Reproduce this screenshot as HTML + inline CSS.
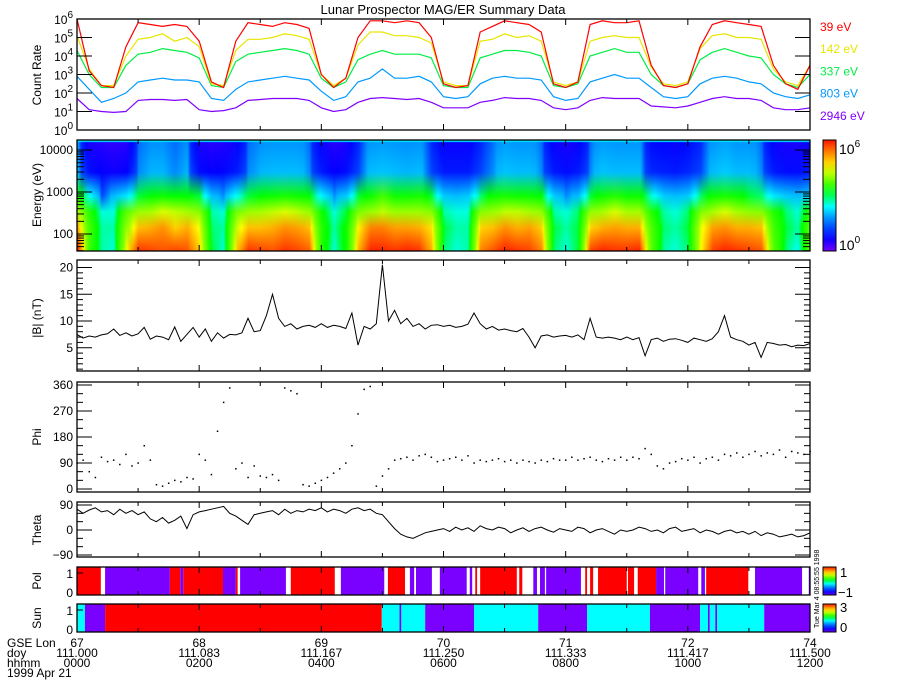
<!DOCTYPE html>
<html><head><meta charset="utf-8">
<style>
html,body{margin:0;padding:0;background:#fff;}
#root{position:relative;width:900px;height:700px;overflow:hidden;font-family:"Liberation Sans",sans-serif;}
canvas{position:absolute;left:0;top:0;}
svg{position:absolute;left:0;top:0;}
</style></head>
<body>
<div id="root">
<canvas id="spec" width="900" height="700"></canvas>
<svg id="svg" width="900" height="700" xmlns="http://www.w3.org/2000/svg" font-family="Liberation Sans, sans-serif"></svg>
</div>
<script>
// ---- data (time step 0.2 h for count rates, 0.1 h for field) ----
const countStep = 0.2;
const logRate39 = [6.0,3.2,2.4,2.3,4.5,5.8,5.7,5.6,5.7,5.6,4.8,2.6,2.3,4.8,5.8,5.7,5.6,5.8,5.7,5.5,3.0,2.3,2.8,5.0,5.9,5.9,5.8,5.9,5.8,5.0,2.5,2.3,2.4,5.3,5.6,5.9,5.8,5.7,5.3,2.5,2.3,2.6,5.7,5.9,5.8,5.8,5.9,3.5,2.4,2.3,2.5,4.5,5.7,5.9,5.8,5.7,5.6,3.5,2.5,2.2,3.5];
const logRate142 = [5.1,3.3,2.4,2.4,4.0,4.9,5.0,5.2,4.8,5.0,4.5,2.5,2.4,4.3,4.9,4.9,5.0,5.2,5.1,4.9,3.0,2.4,2.8,4.6,5.3,5.3,5.1,5.1,5.0,4.7,2.6,2.4,2.4,4.8,4.9,5.2,5.0,5.1,4.8,2.6,2.4,2.6,4.8,5.0,5.1,5.0,5.0,3.4,2.5,2.4,2.6,4.4,5.1,5.2,5.0,5.0,4.9,3.3,2.6,2.4,3.5];
const logRate337 = [4.3,3.0,2.3,2.3,3.5,4.1,4.2,4.4,4.3,4.2,3.9,2.4,2.3,3.7,4.1,4.2,4.3,4.4,4.3,4.1,2.8,2.3,2.6,3.8,4.1,4.3,4.1,4.1,4.1,3.9,2.4,2.3,2.3,3.9,4.1,4.3,4.3,4.2,4.0,2.4,2.3,2.5,4.0,4.2,4.4,4.2,4.2,3.0,2.4,2.3,2.5,3.8,4.2,4.4,4.2,4.0,3.9,3.0,2.5,2.3,3.0];
const logRate803 = [2.9,2.2,1.5,1.7,2.0,2.6,2.7,2.8,2.7,2.7,2.6,1.7,1.6,2.2,2.6,2.7,2.8,2.9,2.8,2.7,2.1,1.6,1.8,2.6,2.8,3.3,2.8,2.8,2.9,2.6,1.8,1.7,1.8,2.5,2.8,2.9,2.8,2.8,2.7,1.8,1.6,1.7,2.6,2.8,3.0,2.8,2.8,2.3,1.8,1.7,1.8,2.5,2.8,2.9,2.8,2.6,2.5,2.0,1.8,1.7,1.9];
const logRate2946 = [1.7,1.1,1.0,0.95,1.0,1.6,1.65,1.65,1.6,1.65,1.1,1.0,1.05,1.2,1.6,1.65,1.7,1.7,1.7,1.6,1.2,1.0,1.1,1.5,1.7,1.75,1.7,1.65,1.7,1.5,1.2,1.2,1.2,1.5,1.6,1.75,1.7,1.7,1.6,1.2,1.1,1.2,1.6,1.75,1.7,1.7,1.7,1.3,1.25,1.2,1.3,1.5,1.7,1.8,1.7,1.7,1.6,1.2,1.1,1.1,1.2];
const channelLabels = ["39 eV","142 eV","337 eV","803 eV","2946 eV"];
const channelEnergies = [39,142,337,803,2946];
const fieldStep = 0.1;
const bMag = [7.5,6.8,7.2,7.0,7.4,7.6,8.5,7.3,7.8,7.2, 7.6,8.8,6.6,7.2,7.0,6.5,8.9,6.2,7.5,8.8, 7.0,8.5,6.2,7.8,6.8,7.5,7.4,7.8,10.5,8.0, 8.2,11.0,15.0,10.5,9.0,9.5,8.5,9.0,9.2,8.8, 9.5,8.8,9.2,9.0,8.6,11.5,5.5,9.0,8.5,9.5, 20.5,10.0,12.0,9.5,10.5,9.0,9.5,8.5,9.2,9.3, 9.0,9.2,8.8,9.0,9.4,11.5,9.5,8.5,9.0,8.3, 8.5,8.2,8.0,8.6,7.0,5.0,7.2,7.4,7.0,7.2, 7.3,7.0,7.4,6.5,10.5,7.0,6.8,7.0,6.8,6.5, 7.0,6.5,6.9,3.5,6.5,6.8,6.2,6.6,6.7,6.4, 6.0,6.8,6.5,6.2,6.7,8.0,11.0,7.0,6.5,6.2, 5.5,6.0,3.2,6.0,5.8,5.5,5.6,5.2,5.5,5.4, 5.8];
const phi = [90,100,60,40,110,95,100,85,120,80, 90,150,100,15,10,20,30,25,40,35, 120,100,50,200,300,350,70,90,40,80, 45,40,50,30,350,340,330,15,10,20, 30,40,55,70,90,150,260,345,355,10, 45,70,100,105,110,100,115,120,110,95, 100,105,110,100,115,90,100,95,100,105, 95,100,90,100,95,90,100,95,105,100, 100,110,100,105,110,100,95,105,100,110, 100,110,105,140,120,80,70,90,95,105, 100,110,90,105,110,100,120,115,125,110, 120,130,115,125,120,135,110,130,125,120, 130];
const theta = [75,60,72,80,65,70,55,75,60,70, 55,65,40,30,45,25,35,50,5,55, 65,70,75,80,85,60,50,35,20,55, 60,65,70,55,75,60,70,65,75,70, 80,65,75,70,60,75,80,70,75,60, 55,30,5,-15,-25,-30,-20,-10,-5,0, 5,-5,10,0,8,-5,15,5,0,10, 5,-10,0,8,-5,5,10,0,-8,5, 0,-5,10,5,-10,0,5,-5,-15,0, -5,0,10,5,-5,0,-10,5,10,-5, 0,5,-10,0,-5,-15,-5,0,-10,-5, -15,-5,-20,-10,-15,-25,-20,-15,-25,-20, -10];
const polStart = [0.00,0.46,1.52,1.69,1.74,2.39,2.60,2.67,3.50,4.32,5.09,5.45,5.55,5.94,6.43,6.52,6.60,7.24,7.47,7.58,7.68,8.32,8.40,8.53,9.02,9.18,9.48,9.63,10.22,10.30,11.10,11.98];
const polEnd   = [0.39,1.52,1.69,1.74,2.39,2.60,2.63,3.42,4.22,5.03,5.37,5.52,5.81,6.38,6.47,6.55,7.20,7.29,7.53,7.66,8.25,8.35,8.45,9.00,9.12,9.48,9.61,10.17,10.28,10.99,11.87,12.00];
const polValue = [1,-1,1,-1,1,-1,1,-1,1,-1,1,-1,-1,-1,-1,1,1,1,-1,-1,-1,1,1,1,1,1,-1,-1,-1,1,-1,-1];
const sunStart = [0,0.13,0.46,4.99,5.28,5.31,5.70,6.50,7.55,8.35,9.38,10.20,10.33,10.36,10.45,10.48,11.25];
const sunEnd   = [0.13,0.46,4.99,5.28,5.31,5.70,6.50,7.55,8.35,9.38,10.20,10.33,10.36,10.45,10.48,11.25,12];
const sunValue = [2,0,3,2,0,2,0,2,0,2,0,2,0,2,0,2,0];
const lonLabels = ["67","68","69","70","71","72","74"];
const doyLabels = ["111.000","111.083","111.167","111.250","111.333","111.417","111.500"];
const hhmmLabels = ["0000","0200","0400","0600","0800","1000","1200"];

// ---- layout ----
const X0=77, X1=810;
const X = t => X0 + t*(X1-X0)/12;
const P = {
 rate:[19,130], spec:[140,251], b:[260,371], phi:[382,492], theta:[502,557], pol:[567,595], sun:[604,632]
};
const Yrate = v => 130 - v*111/6;
const Yspec = e => 192 - (Math.log10(e)-3)*42;
const Yb = v => 374.5 - v*5.35;
const Yphi = v => 489 - v*104/360;
const Ytheta = v => 530 - v*25/90;

const svg = document.getElementById('svg');
const NS='http://www.w3.org/2000/svg';
function el(tag, attrs, parent){const e=document.createElementNS(NS,tag);for(const k in attrs)e.setAttribute(k,attrs[k]);(parent||svg).appendChild(e);return e;}
function txt(s,x,y,opts,parent){const e=el('text',Object.assign({x:x,y:y,'font-size':12,fill:'#000'},opts||{}),parent);e.textContent=s;return e;}
function interp(arr, step, t){const i=t/step;const a=Math.floor(i);const b=Math.min(a+1,arr.length-1);const f=i-a;return arr[Math.min(a,arr.length-1)]*(1-f)+arr[b]*f;}

// colormap
const cmStops=[[0,[120,0,255]],[0.12,[0,0,255]],[0.3,[0,150,255]],[0.4,[0,255,255]],[0.55,[0,255,0]],[0.75,[255,255,0]],[0.88,[255,140,0]],[1,[255,20,0]]];
function cmap(f){f=Math.max(0,Math.min(1,f));for(let i=1;i<cmStops.length;i++){if(f<=cmStops[i][0]){const a=cmStops[i-1],b=cmStops[i];const u=(f-a[0])/(b[0]-a[0]);return 'rgb('+a[1].map((c,k)=>Math.round(c+(b[1][k]-c)*u)).join(',')+')';}}return 'rgb(255,20,0)';}
const vMapV=[0.9,1.5,1.65,2.3,2.7,4.2,5.0,5.8,6.0], vMapF=[0.1,0.2,0.33,0.42,0.55,0.68,0.84,0.97,1.0];
function vToF(v){if(v<=vMapV[0])return vMapF[0];for(let i=1;i<vMapV.length;i++){if(v<=vMapV[i]){const u=(v-vMapV[i-1])/(vMapV[i]-vMapV[i-1]);return vMapF[i-1]+u*(vMapF[i]-vMapF[i-1]);}}return vMapF[vMapF.length-1];}

// ---- spectrogram (canvas) ----
const ctx=document.getElementById('spec').getContext('2d');
const series=[logRate39,logRate142,logRate337,logRate803,logRate2946];
for(let px=X0;px<X1;px++){
  const t=(px-X0)/(X1-X0)*12;
  const vals=series.map(s=>interp(s,countStep,t));
  const g=ctx.createLinearGradient(0,P.spec[1],0,P.spec[0]);
  const span=P.spec[1]-P.spec[0];
  const pos=e=>Math.max(0,Math.min(1,(P.spec[1]-Yspec(e))/span));
  g.addColorStop(0,cmap(vToF(vals[0]+0.1)));
  for(let k=0;k<5;k++) g.addColorStop(pos(channelEnergies[k]),cmap(vToF(vals[k])));
  g.addColorStop(1,cmap(vToF(vals[4])-0.04));
  ctx.fillStyle=g;ctx.fillRect(px,P.spec[0],1,span);
}
ctx.fillStyle='rgb(0,230,255)';ctx.fillRect(X0,P.spec[0],X1-X0,2);
// colorbars
{const g=ctx.createLinearGradient(0,251,0,140);for(let i=0;i<=10;i++)g.addColorStop(i/10,cmap(i/10));ctx.fillStyle=g;ctx.fillRect(823,140,13,111);
 const g2=ctx.createLinearGradient(0,595,0,567);for(let i=0;i<=10;i++)g2.addColorStop(i/10,cmap(i/10));ctx.fillStyle=g2;ctx.fillRect(823,567,13,28);
 const g3=ctx.createLinearGradient(0,632,0,604);for(let i=0;i<=10;i++)g3.addColorStop(i/10,cmap(i/10));ctx.fillStyle=g3;ctx.fillRect(823,604,13,28);}

// ---- title ----
const title=txt('Lunar Prospector MAG/ER Summary Data',443,14,{'text-anchor':'middle','font-size':13});



// ---- count rate lines ----
const lineColors=['#ff0000','#e6e600','#00ee44','#0099ff','#8000ff'];
const gRate=el('g',{});


for(let k=4;k>=0;k--){
  const s=series[k];
  const pts=s.map((v,i)=>X(i*countStep).toFixed(1)+','+Yrate(v).toFixed(1)).join(' ');
  const pl=el('polyline',{points:pts,fill:'none',stroke:lineColors[k],'stroke-width':1.2},gRate);
  
  
  const lb=txt(channelLabels[k],820,31+k*22.2,{fill:lineColors[k],'font-size':12},gRate);
  
  
}

// ---- frames and x ticks ----
function frame(name,y0,y1){
  const r=el('rect',{x:X0,y:y0,width:X1-X0,height:y1-y0,fill:'none',stroke:'#000','stroke-width':1.3});
  
  
  for(let h=0;h<=12;h++){const x=X(h);const L=h%2===0?6:4;
    el('line',{x1:x,y1:y1,x2:x,y2:y1-L,stroke:'#000'});el('line',{x1:x,y1:y0,x2:x,y2:y0+L,stroke:'#000'});}
}
function yTick(y,len,label,right){
  el('line',{x1:X0,y1:y,x2:X0+len,y2:y,stroke:'#000'});
  if(right!==false) el('line',{x1:X1,y1:y,x2:X1-len,y2:y,stroke:'#000'});
  if(label!==null&&label!==undefined){return txt(label,73,y+4,{'text-anchor':'end','font-size':12});}
}
function yTitle(s,y,name){const t=txt(s,41,y,{'text-anchor':'middle','font-size':12,transform:'rotate(-90 41 '+y+')'});}

for(let d=0;d<=6;d++){const y=Yrate(d);yTick(y,15,null);
  const t=el('text',{x:73,y:y+5,'text-anchor':'end','font-size':12,fill:'#000'});t.innerHTML='10<tspan dy="-6" font-size="10">'+d+'</tspan>';
  
  }
frame('count-rate',P.rate[0],P.rate[1]);
yTitle('Count Rate',75,'count-rate-axis-title');

for(let dec=1;dec<=4;dec++){for(let m=1;m<=9;m++){const e=m*Math.pow(10,dec);const y=Yspec(e);if(y<P.spec[0]||y>P.spec[1])continue;
  const major=m===1;el('line',{x1:X0,y1:y,x2:X0+(major?15:7),y2:y,stroke:'#000'});el('line',{x1:X1,y1:y,x2:X1-(major?15:7),y2:y,stroke:'#000'});
  if(major&&dec>=2)txt(String(e),73,y+4,{'text-anchor':'end','font-size':12});}}
frame('spectrogram',P.spec[0],P.spec[1]);
yTitle('Energy (eV)',195,'energy-axis-title');

{const pts=bMag.map((v,i)=>X(i*fieldStep).toFixed(1)+','+Yb(v).toFixed(1)).join(' ');
 const pl=el('polyline',{points:pts,fill:'none',stroke:'#000','stroke-width':1});
 
 }
for(let v=0;v<=20;v++){const y=Yb(v);if(y<P.b[0]||y>P.b[1])continue;const major=v%5===0;yTick(y,major?15:6,major?String(v):null);}
frame('b-magnitude',P.b[0],P.b[1]);
yTitle('|B| (nT)',318,'b-axis-title');

{const g=el('g',{});
 phi.forEach((v,i)=>{const d=el('rect',{x:X(i*fieldStep)-0.7,y:Yphi(v)-0.7,width:1.5,height:1.5,fill:'#000'},g);
 
 });}
for(let v=0;v<=360;v+=30){const major=v%90===0;yTick(Yphi(v),major?15:6,major?String(v):null);}
frame('phi',P.phi[0],P.phi[1]);
yTitle('Phi',437,'phi-axis-title');

{const pts=theta.map((v,i)=>X(i*fieldStep).toFixed(1)+','+Ytheta(v).toFixed(1)).join(' ');
 const pl=el('polyline',{points:pts,fill:'none',stroke:'#000','stroke-width':1});
 
 }
for(let v=-90;v<=90;v+=30){const major=v%90===0;yTick(Ytheta(v),major?15:6,major?(v<0?'\u221290':String(v)):null);}
frame('theta',P.theta[0],P.theta[1]);
yTitle('Theta',530,'theta-axis-title');

const polColor=v=>v>0?'#ff0000':'#7a00ff';
const sunColor=v=>v===3?'#ff0000':(v===2?'#00ffff':(v===1?'#00ff00':'#7a00ff'));
polStart.forEach((s,i)=>{const r=el('rect',{x:X(s),y:P.pol[0],width:Math.max(0.8,X(polEnd[i])-X(s)),height:P.pol[1]-P.pol[0],fill:polColor(polValue[i])});
 
 });
sunStart.forEach((s,i)=>{const r=el('rect',{x:X(s),y:P.sun[0],width:Math.max(0.8,X(sunEnd[i])-X(s)),height:P.sun[1]-P.sun[0],fill:sunColor(sunValue[i])});
 
 });
frame('pol',P.pol[0],P.pol[1]);frame('sun',P.sun[0],P.sun[1]);
txt('1',73,578,{'text-anchor':'end','font-size':12});txt('0',73,597,{'text-anchor':'end','font-size':12});
txt('1',73,615,{'text-anchor':'end','font-size':12});txt('0',73,634,{'text-anchor':'end','font-size':12});
el('line',{x1:X0,y1:573,x2:X0+6,y2:573,stroke:'#000'});el('line',{x1:X0,y1:610,x2:X0+6,y2:610,stroke:'#000'});
yTitle('Pol',581,'pol-axis-title');yTitle('Sun',618,'sun-axis-title');

[[140,251],[567,595],[604,632]].forEach((r,i)=>{const f=el('rect',{x:823,y:r[0],width:13,height:r[1]-r[0],fill:'none',stroke:'#000','stroke-width':1});
 });
{const t=el('text',{x:839,y:154,'font-size':14,fill:'#000'});t.innerHTML='10<tspan dy="-7" font-size="10">6</tspan>';
 const b=el('text',{x:839,y:250,'font-size':14,fill:'#000'});b.innerHTML='10<tspan dy="-7" font-size="10">0</tspan>';}
txt('1',840,577,{'font-size':13});txt('\u22121',838,597,{'font-size':13});
txt('3',840,612,{'font-size':13});txt('0',840,632,{'font-size':13});
txt('Tue Mar  4 08:55:55 1998',819,628,{'font-size':7,transform:'rotate(-90 819 628)'});

const bot=el('g',{});
txt('GSE Lon',7,647,{'font-size':12},bot);txt('doy',7,657,{'font-size':12},bot);txt('hhmm',7,667,{'font-size':12},bot);txt('1999 Apr 21',7,677,{'font-size':12},bot);
lonLabels.forEach((s,i)=>{const x=X(i*2);txt(s,x,647,{'text-anchor':'middle'},bot);txt(doyLabels[i],x,657,{'text-anchor':'middle'},bot);txt(hhmmLabels[i],x,667,{'text-anchor':'middle'},bot);});
</script>
</body></html>
